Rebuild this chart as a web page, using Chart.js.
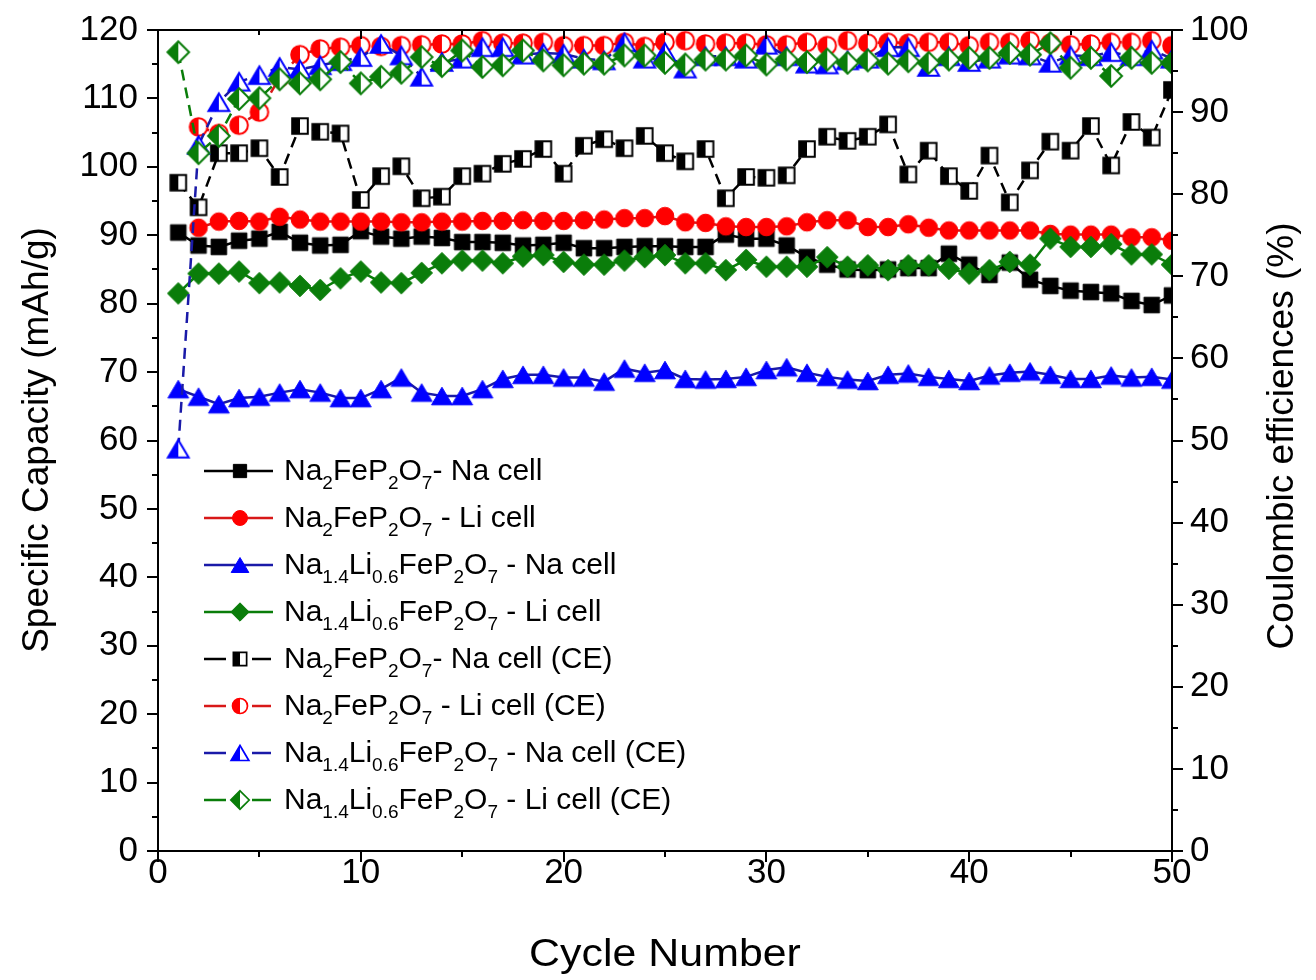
<!DOCTYPE html>
<html>
<head>
<meta charset="utf-8">
<title>Cycling performance of Na2FeP2O7 and Na1.4Li0.6FeP2O7</title>
<script src="https://cdn.jsdelivr.net/npm/chart.js@4.4.0/dist/chart.umd.min.js"></script>
<style>
  html, body { margin: 0; padding: 0; background: #ffffff; }
  #wrap { width: 1316px; height: 980px; }
  canvas { display: block; }
</style>
</head>
<body>
<div id="wrap"><canvas id="chart" width="1316" height="980"></canvas></div>
<script>
// ---- data -------------------------------------------------------------
const cycles = [1, 2, 3, 4, 5, 6, 7, 8, 9, 10, 11, 12, 13, 14, 15, 16, 17, 18, 19, 20,
  21, 22, 23, 24, 25, 26, 27, 28, 29, 30, 31, 32, 33, 34, 35, 36, 37, 38, 39, 40,
  41, 42, 43, 44, 45, 46, 47, 48, 49, 50];

const xTicks = [0, 10, 20, 30, 40, 50];
const capTicks = [0, 10, 20, 30, 40, 50, 60, 70, 80, 90, 100, 110, 120];
const ceTicks = [0, 10, 20, 30, 40, 50, 60, 70, 80, 90, 100];

// specific capacity, mAh/g
const capNa2Fe_Na = [90.4, 88.5, 88.3, 89.2, 89.5, 90.5, 88.9, 88.5, 88.6, 90.6,
  89.8, 89.5, 89.8, 89.6, 89.0, 89.0, 88.9, 88.5, 88.6, 88.9,
  88.1, 88.1, 88.3, 88.4, 88.4, 88.3, 88.3, 90.1, 89.5, 89.5,
  88.5, 86.8, 85.7, 85.0, 84.9, 85.0, 85.2, 85.2, 87.3, 85.7,
  84.2, 86.0, 83.5, 82.6, 81.9, 81.7, 81.5, 80.4, 79.8, 81.2];
const capNa2Fe_Li = [null, 91.1, 92.0, 92.1, 92.0, 92.7, 92.3, 92.0, 92.0, 92.0,
  92.0, 91.9, 91.9, 92.0, 92.0, 92.1, 92.1, 92.2, 92.1, 92.1,
  92.2, 92.3, 92.5, 92.5, 92.8, 91.9, 91.8, 91.3, 91.2, 91.2,
  91.3, 91.9, 92.2, 92.2, 91.2, 91.2, 91.6, 91.1, 90.7, 90.7,
  90.7, 90.7, 90.7, 90.2, 90.1, 90.1, 90.1, 89.7, 89.7, 89.2];
const capNaLi_Na = [67.5, 66.4, 65.3, 66.2, 66.4, 67.0, 67.5, 67.0, 66.2, 66.2,
  67.5, 69.2, 67.0, 66.5, 66.5, 67.5, 69.0, 69.6, 69.6, 69.2,
  69.2, 68.6, 70.5, 69.9, 70.3, 69.0, 68.9, 69.0, 69.3, 70.3,
  70.7, 69.9, 69.3, 68.9, 68.7, 69.6, 69.8, 69.3, 69.0, 68.7,
  69.5, 69.9, 70.1, 69.6, 69.0, 69.0, 69.5, 69.2, 69.3, 68.9];
const capNaLi_Li = [81.5, 84.4, 84.4, 84.7, 83.0, 83.1, 82.6, 82.0, 83.7, 84.7,
  83.1, 83.0, 84.5, 85.9, 86.3, 86.3, 85.9, 86.9, 87.1, 86.1,
  85.7, 85.7, 86.3, 86.8, 87.1, 85.9, 85.9, 84.9, 86.4, 85.4,
  85.4, 85.4, 86.8, 85.4, 85.6, 84.9, 85.6, 85.6, 85.1, 84.4,
  84.9, 86.1, 85.7, 89.5, 88.3, 88.3, 88.7, 87.2, 87.2, 85.7];

// coulombic efficiency, %
const ceNa2Fe_Na = [81.4, 78.4, 85.0, 85.0, 85.6, 82.1, 88.3, 87.6, 87.4, 79.3,
  82.2, 83.4, 79.5, 79.7, 82.2, 82.5, 83.7, 84.3, 85.5, 82.5,
  85.9, 86.7, 85.6, 87.1, 85.0, 84.0, 85.5, 79.5, 82.1, 82.0,
  82.3, 85.5, 87.0, 86.5, 87.0, 88.5, 82.4, 85.3, 82.2, 80.4,
  84.7, 79.0, 82.9, 86.4, 85.3, 88.3, 83.5, 88.8, 86.9, 92.7];
const ceNa2Fe_Li = [null, 88.2, 87.4, 88.4, 90.0, 94.2, 97.0, 97.7, 97.9, 98.1,
  98.0, 98.1, 98.2, 98.3, 98.3, 98.7, 98.4, 98.4, 98.5, 98.1,
  98.1, 98.1, 98.5, 98.0, 98.5, 98.7, 98.3, 98.4, 98.4, 98.2,
  98.2, 98.5, 98.1, 98.7, 98.4, 98.5, 98.4, 98.5, 98.5, 98.1,
  98.5, 98.5, 98.7, 98.4, 98.2, 98.3, 98.5, 98.5, 98.7, 98.1];
const ceNaLi_Na = [49.0, 86.0, 91.2, 93.7, 94.5, 95.5, 95.2, 95.7, 96.2, 96.7,
  98.3, 96.9, 94.3, 96.1, 96.5, 97.9, 97.9, 97.0, 97.2, 97.1,
  96.5, 96.3, 98.5, 96.5, 97.3, 95.3, 96.8, 96.8, 96.5, 98.2,
  96.8, 95.9, 95.8, 96.3, 96.5, 97.9, 97.9, 95.5, 96.8, 96.1,
  96.5, 97.0, 96.9, 96.0, 96.9, 96.8, 97.3, 96.8, 97.6, 96.5];
const ceNaLi_Li = [97.3, 85.0, 87.1, 91.6, 91.7, 94.0, 93.5, 94.0, 96.1, 93.5,
  94.3, 94.8, 96.7, 95.6, 97.5, 95.5, 95.7, 97.5, 96.3, 95.7,
  95.9, 95.9, 96.9, 96.9, 96.0, 95.8, 96.4, 96.4, 96.9, 95.8,
  96.4, 96.1, 96.4, 96.0, 96.3, 95.9, 96.2, 96.0, 96.4, 96.6,
  96.6, 97.2, 97.0, 98.4, 95.4, 96.6, 94.4, 96.6, 96.0, 96.0];

// legend texts (_x / _{xy} marks a subscript)
const seriesLabels = [
  'Na_2FeP_2O_7- Na cell',
  'Na_2FeP_2O_7 - Li cell',
  'Na_{1.4}Li_{0.6}FeP_2O_7 - Na cell',
  'Na_{1.4}Li_{0.6}FeP_2O_7 - Li cell',
  'Na_2FeP_2O_7- Na cell (CE)',
  'Na_2FeP_2O_7 - Li cell (CE)',
  'Na_{1.4}Li_{0.6}FeP_2O_7 - Na cell (CE)',
  'Na_{1.4}Li_{0.6}FeP_2O_7 - Li cell (CE)'
];

// ---- styling ----------------------------------------------------------
const FONT = "'Liberation Sans', Arial, Helvetica, sans-serif";
const BLACK = '#000000', RED = '#ff0000', BLUE = '#0000ff', GREEN = '#0a7d0a';

// marker bitmaps: solid or left-half-filled shapes
function makeMarker(shape, color, half, scale) {
  scale = scale || 1;
  const S = Math.ceil(30 * scale);
  const c = document.createElement('canvas');
  c.width = S; c.height = S;
  const g = c.getContext('2d');
  const m = S / 2;
  const path = () => {
    g.beginPath();
    if (shape === 'square') {
      const h = 7.8 * scale;
      g.rect(m - h, m - h, 2 * h, 2 * h);
    } else if (shape === 'circle') {
      g.arc(m, m, 8.8 * scale, 0, Math.PI * 2);
    } else if (shape === 'triangle') {
      const h = 8.8 * scale, w = 10.4 * scale;
      g.moveTo(m, m - h); g.lineTo(m + w, m + h); g.lineTo(m - w, m + h); g.closePath();
    } else {
      const r = 10.8 * scale;
      g.moveTo(m, m - r); g.lineTo(m + r, m); g.lineTo(m, m + r); g.lineTo(m - r, m); g.closePath();
    }
  };
  if (half) {
    path(); g.fillStyle = '#ffffff'; g.fill();
    g.save(); path(); g.clip(); g.fillStyle = color; g.fillRect(0, 0, m, S); g.restore();
    path(); g.lineWidth = 2 * scale; g.strokeStyle = color; g.stroke();
  } else {
    path(); g.fillStyle = color; g.fill();
    g.lineWidth = 1; g.strokeStyle = color; g.stroke();
  }
  return c;
}

const seriesStyle = [
  { values: capNa2Fe_Na, axis: 'y',  shape: 'square',   color: BLACK, line: BLACK,     ce: false, order: 7 },
  { values: capNa2Fe_Li, axis: 'y',  shape: 'circle',   color: RED,   line: '#d81818', ce: false, order: 6 },
  { values: capNaLi_Na,  axis: 'y',  shape: 'triangle', color: BLUE,  line: '#1a1aa8', ce: false, order: 5 },
  { values: capNaLi_Li,  axis: 'y',  shape: 'diamond',  color: GREEN, line: GREEN,     ce: false, order: 4 },
  { values: ceNa2Fe_Na,  axis: 'y1', shape: 'square',   color: BLACK, line: BLACK,     ce: true,  order: 3 },
  { values: ceNa2Fe_Li,  axis: 'y1', shape: 'circle',   color: RED,   line: '#d81818', ce: true,  order: 2 },
  { values: ceNaLi_Na,   axis: 'y1', shape: 'triangle', color: BLUE,  line: '#1a1aa8', ce: true,  order: 1 },
  { values: ceNaLi_Li,   axis: 'y1', shape: 'diamond',  color: GREEN, line: GREEN,     ce: true,  order: 0 }
];
seriesStyle.forEach(s => {
  s.marker = makeMarker(s.shape, s.color, s.ce, 1);
  s.legendMarker = makeMarker(s.shape, s.color, s.ce, 0.85);
});

const datasets = seriesStyle.map((s, i) => ({
  label: seriesLabels[i].replace(/_\{([^}]*)\}|_(.)/g, '$1$2'),
  data: cycles.map((x, k) => ({ x: x, y: s.values[k] })),
  yAxisID: s.axis,
  borderColor: s.line,
  backgroundColor: s.color,
  borderWidth: 2.5,
  borderDash: s.ce ? [11, 7] : [],
  pointStyle: s.marker,
  pointRadius: 10,
  pointHoverRadius: 10,
  fill: false,
  tension: 0,
  spanGaps: true,
  order: s.order
}));

// ---- rich text with subscripts ---------------------------------------
function drawRich(ctx, text, x, y, size) {
  const parts = [];
  const re = /_\{([^}]*)\}|_(.)/g;
  let last = 0, m;
  while ((m = re.exec(text))) {
    if (m.index > last) parts.push([text.slice(last, m.index), false]);
    parts.push([m[1] !== undefined ? m[1] : m[2], true]);
    last = re.lastIndex;
  }
  if (last < text.length) parts.push([text.slice(last), false]);
  let cx = x;
  for (const [t, sub] of parts) {
    const fs = sub ? Math.round(size * 0.64) : size;
    ctx.font = fs + 'px ' + FONT;
    ctx.fillText(t, cx, sub ? y + size * 0.3 : y);
    cx += ctx.measureText(t).width;
  }
}

// ---- frame, tick marks, titles and legend ------------------------------
const decorations = {
  id: 'decorations',
  afterDraw(chart) {
    const { ctx, chartArea: a, scales } = chart;
    ctx.save();
    ctx.strokeStyle = '#000';
    ctx.lineWidth = 2;
    const seg = (x1, y1, x2, y2) => { ctx.beginPath(); ctx.moveTo(x1, y1); ctx.lineTo(x2, y2); ctx.stroke(); };

    ctx.strokeRect(a.left, a.top, a.right - a.left, a.bottom - a.top);

    for (let v = scales.y.min; v <= scales.y.max; v += 5) {
      const y = Math.round(scales.y.getPixelForValue(v));
      seg(a.left - (v % 10 === 0 ? 11 : 6), y, a.left, y);
    }
    for (let v = scales.y1.min; v <= scales.y1.max; v += 5) {
      const y = Math.round(scales.y1.getPixelForValue(v));
      seg(a.right, y, a.right + (v % 10 === 0 ? 11 : 6), y);
    }
    for (let v = scales.x.min; v <= scales.x.max; v += 5) {
      const x = Math.round(scales.x.getPixelForValue(v));
      seg(x, a.bottom, x, a.bottom + (v % 10 === 0 ? 11 : 6));
      seg(x, a.top, x, a.top + (v % 10 === 0 ? 9 : 5));
    }

    // axis titles
    ctx.fillStyle = '#000';
    ctx.textAlign = 'center';
    ctx.textBaseline = 'middle';
    ctx.font = '39px ' + FONT;
    ctx.save();
    ctx.translate((a.left + a.right) / 2, 955);
    ctx.scale(1.1, 1);
    ctx.fillText('Cycle Number', 0, 0);
    ctx.restore();
    ctx.font = '37px ' + FONT;
    ctx.save();
    ctx.translate(38, 440);
    ctx.rotate(-Math.PI / 2);
    ctx.fillText('Specific Capacity (mAh/g)', 0, 0);
    ctx.restore();
    ctx.save();
    ctx.translate(1283, 436);
    ctx.rotate(-Math.PI / 2);
    ctx.fillText('Coulombic efficiences (%)', 0, 0);
    ctx.restore();

    // legend
    ctx.textAlign = 'left';
    ctx.textBaseline = 'alphabetic';
    seriesStyle.forEach((s, i) => {
      const cy = 469 + 47 * i;
      ctx.strokeStyle = s.line;
      ctx.lineWidth = 2.5;
      if (s.ce) {
        seg(204, cy + 2, 226, cy + 2);
        seg(252, cy + 2, 271, cy + 2);
      } else {
        seg(204, cy + 2, 273, cy + 2);
      }
      const mk = s.legendMarker;
      ctx.drawImage(mk, 240 - mk.width / 2, cy + 2 - mk.height / 2);
      ctx.fillStyle = '#000';
      drawRich(ctx, seriesLabels[i], 284, cy + 11, 30);
    });
    ctx.restore();
  }
};

// ---- chart --------------------------------------------------------------
const tickFont = { family: FONT, size: 35 };
const noEdgePadding = s => { s.paddingTop = 0; s.paddingBottom = 0; s.paddingLeft = 0; s.paddingRight = 0; };
new Chart(document.getElementById('chart'), {
  type: 'line',
  data: { datasets: datasets },
  options: {
    responsive: false,
    animation: false,
    devicePixelRatio: 1,
    events: [],
    layout: { padding: { top: 30, left: 0, right: 0, bottom: 0 } },
    plugins: { legend: { display: false }, tooltip: { enabled: false } },
    scales: {
      x: {
        type: 'linear', position: 'bottom', min: 0, max: 50,
        afterBuildTicks: s => { s.ticks = xTicks.map(v => ({ value: v })); },
        ticks: { font: tickFont, color: '#000', padding: 1, maxRotation: 0 },
        grid: { display: false, drawTicks: false },
        border: { display: false },
        afterFit: s => { s.height = 129; noEdgePadding(s); }
      },
      y: {
        type: 'linear', position: 'left', min: 0, max: 120,
        afterBuildTicks: s => { s.ticks = capTicks.map(v => ({ value: v })); },
        ticks: { font: tickFont, color: '#000', padding: 20 },
        grid: { display: false, drawTicks: false },
        border: { display: false },
        afterFit: s => { s.width = 158; noEdgePadding(s); }
      },
      y1: {
        type: 'linear', position: 'right', min: 0, max: 100,
        afterBuildTicks: s => { s.ticks = ceTicks.map(v => ({ value: v })); },
        ticks: { font: tickFont, color: '#000', padding: 18 },
        grid: { display: false, drawTicks: false },
        border: { display: false },
        afterFit: s => { s.width = 144; noEdgePadding(s); }
      }
    }
  },
  plugins: [decorations]
});
</script>
</body>
</html>
